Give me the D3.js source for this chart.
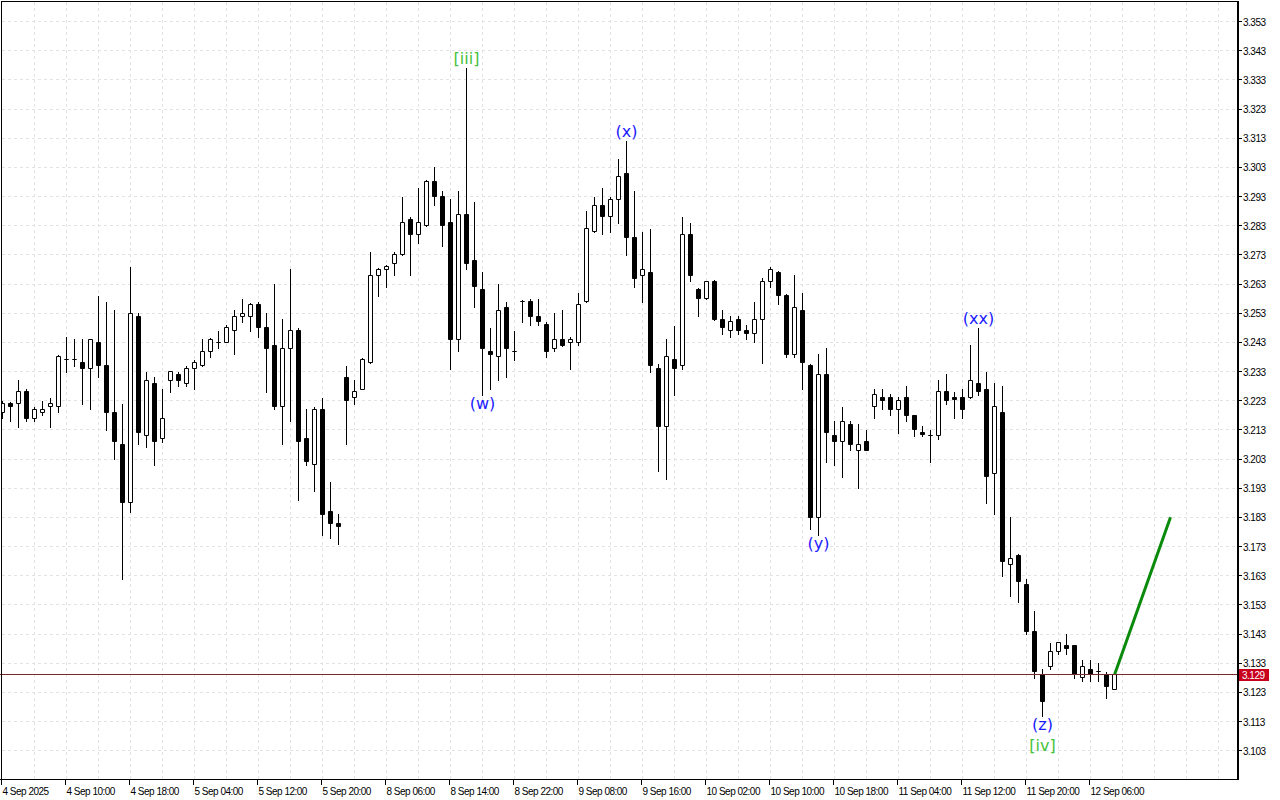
<!DOCTYPE html>

<head>
    <script src="https://d3js.org/d3.v7.js" charset="utf-8"></script>
    <style type="text/css">
        body {
            margin: 0;
            background-color: white;
        }

        svg {
            display: block;
            background-color: white;
        }

        .grid line {
            stroke: #e3e3e3;
            stroke-dasharray: 3, 3;
        }

        .axis text {
            font-family: "Liberation Sans", sans-serif;
            font-size: 10px;
            letter-spacing: -0.5px;
            fill: black;
        }

        .wave {
            font-family: "DejaVu Sans", sans-serif;
            font-size: 16px;
            text-anchor: middle;
        }
    </style>
</head>

<body>
    <svg id="main"></svg>
    <script>
        // H1 candles, 4 Sep 2025 -> 12 Sep 2025
        const opens = [
            3.219, 3.222, 3.222, 3.226, 3.217, 3.219, 3.221, 3.221, 3.237, 3.237,
            3.236, 3.234, 3.243, 3.235, 3.219, 3.208, 3.188, 3.252, 3.211, 3.229,
            3.210, 3.230, 3.232, 3.229, 3.234, 3.235, 3.240, 3.243, 3.243, 3.247,
            3.252, 3.252, 3.256, 3.248, 3.242, 3.221, 3.241, 3.247, 3.210, 3.201,
            3.220, 3.185, 3.181, 3.231, 3.224, 3.227, 3.236, 3.266, 3.268, 3.270,
            3.273, 3.285, 3.280, 3.283, 3.298, 3.293, 3.284, 3.244, 3.287, 3.271,
            3.261, 3.240, 3.238, 3.255, 3.240, 3.257, 3.257, 3.252, 3.249, 3.241,
            3.244, 3.243, 3.243, 3.257, 3.281, 3.290, 3.286, 3.292, 3.301, 3.279,
            3.266, 3.267, 3.234, 3.214, 3.237, 3.235, 3.280, 3.261, 3.258, 3.264,
            3.251, 3.247, 3.251, 3.247, 3.246, 3.251, 3.264, 3.267, 3.259, 3.239,
            3.254, 3.235, 3.183, 3.232, 3.211, 3.209, 3.215, 3.206, 3.209, 3.221,
            3.224, 3.224, 3.220, 3.224, 3.218, 3.212, 3.211, 3.211, 3.226, 3.224,
            3.224, 3.224, 3.229, 3.227, 3.198, 3.219, 3.167, 3.170, 3.160, 3.144,
            3.129, 3.132, 3.137, 3.139, 3.139, 3.128, 3.131, 3.130, 3.129, 3.124
        ]
        const highs = [
            3.223, 3.2225, 3.230, 3.227, 3.221, 3.223, 3.224, 3.2385, 3.245, 3.244,
            3.244, 3.244, 3.259, 3.257, 3.254, 3.222, 3.269, 3.253, 3.233, 3.231,
            3.227, 3.2333, 3.233, 3.235, 3.237, 3.244, 3.2445, 3.247, 3.249, 3.254,
            3.258, 3.2565, 3.257, 3.253, 3.263, 3.251, 3.268, 3.248, 3.220, 3.221,
            3.224, 3.195, 3.184, 3.235, 3.230, 3.2375, 3.274, 3.2685, 3.2695, 3.274,
            3.293, 3.286, 3.296, 3.2985, 3.303, 3.295, 3.292, 3.295, 3.337, 3.291,
            3.267, 3.248, 3.263, 3.257, 3.247, 3.2575, 3.258, 3.258, 3.250, 3.253,
            3.254, 3.245, 3.260, 3.288, 3.293, 3.296, 3.293, 3.306, 3.312, 3.295,
            3.281, 3.282, 3.2355, 3.244, 3.2485, 3.286, 3.284, 3.2615, 3.264, 3.2645,
            3.254, 3.252, 3.252, 3.249, 3.257, 3.265, 3.269, 3.2675, 3.2595, 3.266,
            3.260, 3.2355, 3.239, 3.241, 3.216, 3.221, 3.216, 3.215, 3.213, 3.227,
            3.227, 3.2253, 3.2244, 3.228, 3.2182, 3.2144, 3.213, 3.230, 3.232, 3.226,
            3.227, 3.242, 3.248, 3.233, 3.229, 3.228, 3.183, 3.1703, 3.162, 3.151,
            3.131, 3.140, 3.140, 3.143, 3.1393, 3.134, 3.134, 3.133, 3.130, 3.129
        ]
        const lows = [
            3.217, 3.216, 3.214, 3.216, 3.216, 3.218, 3.214, 3.219, 3.233, 3.235,
            3.222, 3.220, 3.231, 3.213, 3.203, 3.162, 3.185, 3.208, 3.207, 3.201,
            3.209, 3.226, 3.228, 3.228, 3.227, 3.235, 3.238, 3.241, 3.243, 3.239,
            3.250, 3.247, 3.245, 3.226, 3.220, 3.208, 3.216, 3.189, 3.201, 3.192,
            3.177, 3.176, 3.174, 3.208, 3.222, 3.227, 3.236, 3.259, 3.262, 3.266,
            3.273, 3.266, 3.277, 3.283, 3.290, 3.276, 3.234, 3.240, 3.268, 3.255,
            3.225, 3.227, 3.230, 3.231, 3.237, 3.250, 3.249, 3.249, 3.238, 3.240,
            3.2418, 3.234, 3.242, 3.257, 3.281, 3.280, 3.281, 3.284, 3.273, 3.262,
            3.257, 3.233, 3.199, 3.196, 3.225, 3.234, 3.264, 3.252, 3.258, 3.2505,
            3.246, 3.245, 3.246, 3.244, 3.243, 3.236, 3.262, 3.256, 3.238, 3.238,
            3.227, 3.179, 3.177, 3.202, 3.201, 3.197, 3.206, 3.193, 3.206, 3.217,
            3.220, 3.218, 3.212, 3.216, 3.211, 3.211, 3.202, 3.210, 3.222, 3.217,
            3.217, 3.224, 3.225, 3.188, 3.184, 3.163, 3.156, 3.154, 3.143, 3.128,
            3.115, 3.131, 3.136, 3.136, 3.128, 3.127, 3.127, 3.127, 3.121, 3.124
        ]
        const closes = [
            3.222, 3.221, 3.226, 3.217, 3.220, 3.220, 3.222, 3.238, 3.237, 3.237,
            3.234, 3.244, 3.235, 3.219, 3.209, 3.188, 3.253, 3.212, 3.230, 3.209,
            3.217, 3.233, 3.230, 3.234, 3.236, 3.240, 3.244, 3.243, 3.248, 3.252,
            3.253, 3.256, 3.248, 3.241, 3.221, 3.241, 3.247, 3.209, 3.202, 3.220,
            3.184, 3.181, 3.180, 3.223, 3.226, 3.237, 3.266, 3.268, 3.269, 3.273,
            3.284, 3.280, 3.284, 3.298, 3.293, 3.283, 3.244, 3.287, 3.270, 3.262,
            3.241, 3.239, 3.254, 3.241, 3.240, 3.257, 3.252, 3.250, 3.240, 3.244,
            3.242, 3.244, 3.256, 3.282, 3.290, 3.286, 3.292, 3.300, 3.279, 3.265,
            3.268, 3.235, 3.214, 3.238, 3.234, 3.280, 3.266, 3.258, 3.264, 3.251,
            3.248, 3.250, 3.247, 3.246, 3.251, 3.264, 3.268, 3.259, 3.239, 3.255,
            3.236, 3.183, 3.232, 3.212, 3.209, 3.216, 3.208, 3.208, 3.206, 3.225,
            3.2232, 3.220, 3.223, 3.218, 3.213, 3.2113, 3.211, 3.226, 3.223, 3.2233,
            3.220, 3.230, 3.226, 3.197, 3.221, 3.168, 3.169, 3.161, 3.144, 3.130,
            3.120, 3.137, 3.140, 3.138, 3.129, 3.132, 3.129, 3.130, 3.125, 3.129
        ]

        // time axis labels, one every 8 bars
        const timeLabels = ["4 Sep 2025", "4 Sep 10:00", "4 Sep 18:00", "5 Sep 04:00", "5 Sep 12:00",
            "5 Sep 20:00", "8 Sep 06:00", "8 Sep 14:00", "8 Sep 22:00", "9 Sep 08:00", "9 Sep 16:00",
            "10 Sep 02:00", "10 Sep 10:00", "10 Sep 18:00", "11 Sep 04:00", "11 Sep 12:00",
            "11 Sep 20:00", "12 Sep 06:00"]
        const timeLabelBars = [0, 8, 16, 24, 32, 40, 48, 56, 64, 72, 80, 88, 96, 104, 112, 120, 128, 136]

        const priceTicks = d3.range(26).map(k => +(3.103 + k * 0.01).toFixed(3))

        // wave count labels
        const waveText = ["[iii]", "(w)", "(x)", "(y)", "(xx)", "(z)", "[iv]"]
        const waveBar = [58, 60, 78, 102, 122, 130, 130]
        const waveAt = ["high", "low", "high", "low", "high", "low", "low"]
        const waveColor = ["#44c23c", "#1a1aff", "#1a1aff", "#1a1aff", "#1a1aff", "#1a1aff", "#44c23c"]
        const waveRow = [0, 0, 0, 0, 0, 0, 1]

        // projected move
        const projBars = [139, 146]
        const projPrices = [3.129, 3.183]

        let width = 1280,
            height = 800,
            plotRight = 1238,
            plotBottom = 779

        let svg = d3.select("#main")
            .attr("width", width)
            .attr("height", height)

        let x = d3.scaleLinear().domain([0, 139]).range([2.5, 1114.5])
        let y = d3.scaleLinear().domain([3.103, 3.353]).range([750.7, 21.5])
        let crisp = v => Math.floor(v) + 0.5

        svg.append("defs").append("clipPath").attr("id", "plotclip")
            .append("rect").attr("x", 2).attr("y", 2).attr("width", plotRight - 2).attr("height", plotBottom - 2)

        // grid
        let grid = svg.append("g").attr("class", "grid")
        grid.selectAll(".hg").data(priceTicks).enter().append("line")
            .attr("x1", 2).attr("x2", plotRight)
            .attr("y1", d => crisp(y(d))).attr("y2", d => crisp(y(d)))
        grid.selectAll(".vg").data(d3.range(4, 156, 4).filter(i => x(i) < plotRight)).enter().append("line")
            .attr("x1", d => x(d)).attr("x2", d => x(d))
            .attr("y1", 2).attr("y2", plotBottom)

        // candles
        let bars = d3.range(opens.length)
        let plot = svg.append("g").attr("clip-path", "url(#plotclip)")

        plot.selectAll(".wick").data(bars).enter().append("line")
            .attr("x1", i => x(i)).attr("x2", i => x(i))
            .attr("y1", i => Math.round(y(highs[i]))).attr("y2", i => Math.round(y(lows[i])) + 1)
            .attr("stroke", "black")

        plot.selectAll(".body").data(bars).enter().append("path")
            .attr("d", function (i) {
                let top = crisp(y(Math.max(opens[i], closes[i])))
                let bot = crisp(y(Math.min(opens[i], closes[i])))
                return "M" + (x(i) - 2) + "," + top + "H" + (x(i) + 2) + "V" + bot + "H" + (x(i) - 2) + "Z"
            })
            .attr("fill", i => closes[i] < opens[i] ? "black" : "white")
            .attr("stroke", "black")

        // current price line
        let last = closes[closes.length - 1]
        svg.append("line")
            .attr("x1", 0).attr("x2", plotRight)
            .attr("y1", crisp(y(last))).attr("y2", crisp(y(last)))
            .attr("stroke", "#7a2a2a")

        // projection
        plot.append("path")
            .datum(d3.zip(projBars, projPrices))
            .attr("d", d3.line().x(d => x(d[0])).y(d => y(d[1])))
            .attr("stroke", "#0a8a0a")
            .attr("stroke-width", 3)
            .attr("fill", "none")

        // wave labels
        svg.selectAll(".wave").data(waveText).enter().append("text")
            .attr("class", "wave")
            .attr("x", (d, k) => x(waveBar[k]))
            .attr("y", function (d, k) {
                let i = waveBar[k]
                if (waveAt[k] == "high") return y(highs[i]) - 4
                return y(lows[i]) + 14 + waveRow[k] * 21
            })
            .attr("fill", (d, k) => waveColor[k])
            .text(d => d)

        // frame
        svg.append("line").attr("x1", 1.5).attr("x2", 1.5).attr("y1", 1).attr("y2", plotBottom).attr("stroke", "black")
        svg.append("line").attr("x1", 1).attr("x2", plotRight).attr("y1", 1.5).attr("y2", 1.5).attr("stroke", "black")

        // price axis
        let axisR = svg.append("g").attr("class", "axis")
        axisR.append("line").attr("x1", plotRight).attr("x2", plotRight).attr("y1", 1).attr("y2", plotBottom + 1)
            .attr("stroke", "black").attr("stroke-width", 2)
        axisR.selectAll(".tk").data(priceTicks).enter().append("line")
            .attr("x1", plotRight).attr("x2", plotRight + 4)
            .attr("y1", d => crisp(y(d))).attr("y2", d => crisp(y(d)))
            .attr("stroke", "black")
        axisR.selectAll(".lb").data(priceTicks).enter().append("text")
            .attr("x", plotRight + 5)
            .attr("y", d => y(d) + 4)
            .text(d => d.toFixed(3))

        // current price tag
        axisR.append("rect")
            .attr("x", plotRight + 1).attr("y", Math.round(y(last)) - 6)
            .attr("width", 30).attr("height", 12)
            .attr("fill", "#c8001e")
        axisR.append("text")
            .attr("x", plotRight + 4).attr("y", y(last) + 4)
            .style("fill", "white")
            .text(last.toFixed(3))

        // time axis
        let axisB = svg.append("g").attr("class", "axis")
        axisB.append("line").attr("x1", 0).attr("x2", plotRight).attr("y1", plotBottom + 0.5).attr("y2", plotBottom + 0.5)
            .attr("stroke", "black")
        axisB.selectAll(".tk").data(timeLabelBars).enter().append("line")
            .attr("x1", i => x(i) - 1).attr("x2", i => x(i) - 1)
            .attr("y1", plotBottom).attr("y2", plotBottom + 6)
            .attr("stroke", "black")
        axisB.selectAll(".lb").data(timeLabels).enter().append("text")
            .attr("x", (d, k) => x(timeLabelBars[k]))
            .attr("y", plotBottom + 16)
            .text(d => d)
    </script>
</body>
